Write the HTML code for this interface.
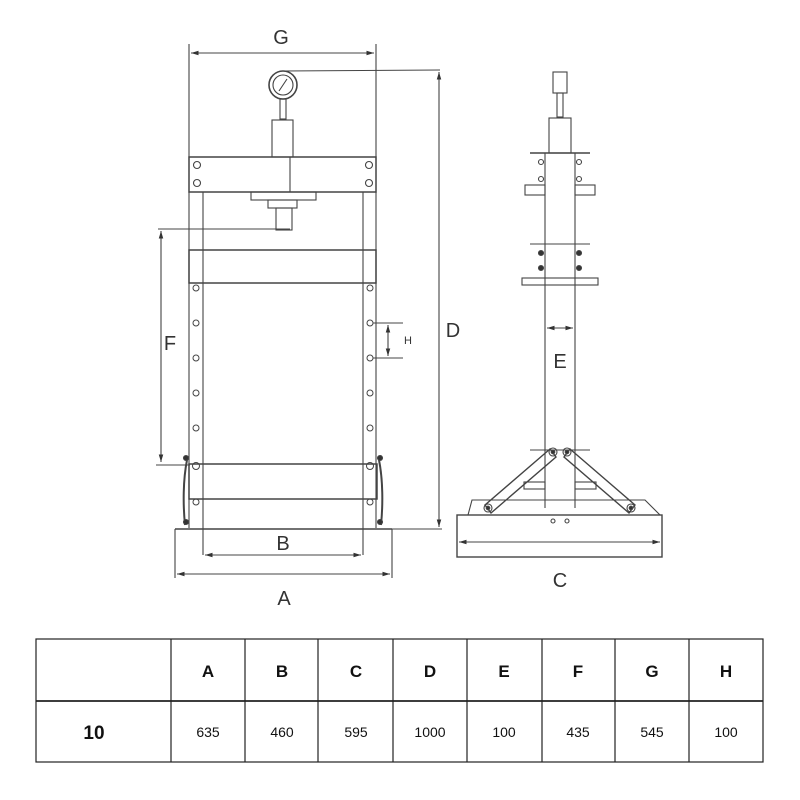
<!DOCTYPE html>
<html><head><meta charset="utf-8"><style>
html,body{margin:0;padding:0;background:#fff;width:800px;height:800px;overflow:hidden}
svg{display:block}
</style></head><body>
<svg width="800" height="800" viewBox="0 0 800 800" xmlns="http://www.w3.org/2000/svg" font-family="Liberation Sans, sans-serif">
<defs>
<marker id="ar" viewBox="0 0 10 10" refX="10" refY="5" markerWidth="7" markerHeight="7" orient="auto-start-reverse"><path d="M0,2 L10,5 L0,8 z" fill="#333"/></marker>
</defs>
<g stroke="#444" stroke-width="1.1" fill="none">
<!-- G dimension -->
<line x1="189" y1="44" x2="189" y2="160"/>
<line x1="376" y1="44" x2="376" y2="160"/>
<line x1="191" y1="53" x2="374" y2="53" marker-start="url(#ar)" marker-end="url(#ar)"/>
<!-- gauge -->
<circle cx="283" cy="85" r="14" stroke-width="1.6"/>
<circle cx="283" cy="85" r="10"/>
<line x1="279" y1="91" x2="287" y2="79"/>
<line x1="283" y1="71" x2="440" y2="70"/>
<rect x="280" y="99" width="6" height="20"/>
<rect x="272" y="120" width="21" height="37"/>
<!-- top beam -->
<rect x="189" y="157" width="187" height="35" stroke-width="1.5"/>
<line x1="290" y1="157" x2="290" y2="192"/>
<circle cx="197" cy="165" r="3.5"/><circle cx="197" cy="183" r="3.5"/>
<circle cx="369" cy="165" r="3.5"/><circle cx="369" cy="183" r="3.5"/>
<rect x="251" y="192" width="65" height="8"/>
<rect x="268" y="200" width="29" height="8"/>
<rect x="276" y="208" width="16" height="22"/>
<!-- F -->
<line x1="158" y1="229" x2="290" y2="229"/>
<line x1="161" y1="231" x2="161" y2="462" marker-start="url(#ar)" marker-end="url(#ar)"/>
<line x1="156" y1="465" x2="190" y2="465"/>
<!-- columns -->
<line x1="189" y1="192" x2="189" y2="528"/>
<line x1="203" y1="192" x2="203" y2="555"/>
<line x1="363" y1="192" x2="363" y2="555"/>
<line x1="376" y1="192" x2="376" y2="528"/>
<rect x="189" y="250" width="187" height="33" stroke-width="1.5"/>
<g stroke-width="1">
<circle cx="196" cy="288" r="3"/><circle cx="196" cy="323" r="3"/><circle cx="196" cy="358" r="3"/><circle cx="196" cy="393" r="3"/><circle cx="196" cy="428" r="3"/><circle cx="196" cy="466" r="3.5"/><circle cx="196" cy="502" r="3"/>
<circle cx="370" cy="288" r="3"/><circle cx="370" cy="323" r="3"/><circle cx="370" cy="358" r="3"/><circle cx="370" cy="393" r="3"/><circle cx="370" cy="428" r="3"/><circle cx="370" cy="466" r="3.5"/><circle cx="370" cy="502" r="3"/>
</g>
<!-- H -->
<line x1="373" y1="323" x2="403" y2="323"/>
<line x1="373" y1="358" x2="403" y2="358"/>
<line x1="388" y1="325" x2="388" y2="356" marker-start="url(#ar)" marker-end="url(#ar)"/>
<!-- lower bed -->
<rect x="189" y="464" width="188" height="35" stroke-width="1.5"/>
<path d="M187,460 C183,480 183,505 185,525" stroke-width="2"/>
<path d="M379,460 C383,480 383,505 381,525" stroke-width="2"/>
<circle cx="186" cy="458" r="2.5" fill="#333"/><circle cx="186" cy="522" r="2.5" fill="#333"/>
<circle cx="380" cy="458" r="2.5" fill="#333"/><circle cx="380" cy="522" r="2.5" fill="#333"/>
<!-- base -->
<line x1="175" y1="529" x2="392" y2="529" stroke-width="1.5"/>
<line x1="175" y1="529" x2="175" y2="578"/>
<line x1="392" y1="529" x2="392" y2="578"/>
<line x1="392" y1="529" x2="442" y2="529"/>
<line x1="205" y1="555" x2="361" y2="555" marker-start="url(#ar)" marker-end="url(#ar)"/>
<line x1="177" y1="574" x2="390" y2="574" marker-start="url(#ar)" marker-end="url(#ar)"/>
<!-- D -->
<line x1="439" y1="72" x2="439" y2="527" marker-start="url(#ar)" marker-end="url(#ar)"/>

<!-- side view -->
<rect x="553" y="72" width="14" height="21"/>
<rect x="557" y="93" width="6" height="24"/>
<rect x="549" y="118" width="22" height="35"/>
<line x1="545" y1="153" x2="545" y2="508"/>
<line x1="575" y1="153" x2="575" y2="508"/>
<line x1="530" y1="153" x2="590" y2="153" stroke-width="1.5"/>
<rect x="525" y="185" width="20" height="10"/><rect x="575" y="185" width="20" height="10"/>
<circle cx="541" cy="162" r="2.5"/><circle cx="541" cy="179" r="2.5"/><circle cx="579" cy="162" r="2.5"/><circle cx="579" cy="179" r="2.5"/>
<line x1="530" y1="244" x2="590" y2="244"/>
<circle cx="541" cy="253" r="2.5" fill="#333"/><circle cx="541" cy="268" r="2.5" fill="#333"/><circle cx="579" cy="253" r="2.5" fill="#333"/><circle cx="579" cy="268" r="2.5" fill="#333"/>
<rect x="522" y="278" width="76" height="7"/>
<line x1="530" y1="450" x2="590" y2="450"/>
<rect x="524" y="482" width="21" height="7"/><rect x="575" y="482" width="21" height="7"/>
<line x1="547" y1="328" x2="573" y2="328" marker-start="url(#ar)" marker-end="url(#ar)"/>
<path d="M550,449 L485,505 L491,513 L556,457 Z" stroke-width="1.4"/>
<path d="M570,449 L635,505 L629,513 L564,457 Z" stroke-width="1.4"/>
<circle cx="553" cy="452" r="4"/><circle cx="567" cy="452" r="4"/>
<circle cx="488" cy="508" r="4"/><circle cx="631" cy="508" r="4"/>
<circle cx="553" cy="452" r="1.8" fill="#333"/><circle cx="567" cy="452" r="1.8" fill="#333"/>
<circle cx="488" cy="508" r="1.8" fill="#333"/><circle cx="631" cy="508" r="1.8" fill="#333"/>
<circle cx="553" cy="521" r="2"/><circle cx="567" cy="521" r="2"/>
<path d="M468,515 L472,500 L645,500 L660,515" />
<rect x="457" y="515" width="205" height="42" stroke-width="1.4"/>
<line x1="459" y1="542" x2="660" y2="542" marker-start="url(#ar)" marker-end="url(#ar)"/>
</g>
<g fill="#333" font-size="20" text-anchor="middle">
<text x="281" y="44">G</text>
<text x="170" y="350">F</text>
<text x="453" y="337">D</text>
<text x="283" y="550">B</text>
<text x="284" y="605">A</text>
<text x="560" y="368">E</text>
<text x="560" y="587">C</text>
<text x="408" y="344" font-size="11">H</text>
</g>
<!-- table -->
<g stroke="#222" stroke-width="1.2" fill="none">
<rect x="36" y="639" width="727" height="123"/>
<line x1="36" y1="701" x2="763" y2="701" stroke-width="1.8"/>
<line x1="171" y1="639" x2="171" y2="762"/>
<line x1="245" y1="639" x2="245" y2="762"/>
<line x1="318" y1="639" x2="318" y2="762"/>
<line x1="393" y1="639" x2="393" y2="762"/>
<line x1="467" y1="639" x2="467" y2="762"/>
<line x1="542" y1="639" x2="542" y2="762"/>
<line x1="615" y1="639" x2="615" y2="762"/>
<line x1="689" y1="639" x2="689" y2="762"/>
</g>
<g fill="#111" text-anchor="middle" font-size="17" font-weight="bold">
<text x="208" y="677">A</text><text x="282" y="677">B</text><text x="356" y="677">C</text><text x="430" y="677">D</text><text x="504" y="677">E</text><text x="578" y="677">F</text><text x="652" y="677">G</text><text x="726" y="677">H</text>
<text x="94" y="739" font-size="19">10</text>
</g>
<g fill="#111" text-anchor="middle" font-size="14">
<text x="208" y="737">635</text><text x="282" y="737">460</text><text x="356" y="737">595</text><text x="430" y="737">1000</text><text x="504" y="737">100</text><text x="578" y="737">435</text><text x="652" y="737">545</text><text x="726" y="737">100</text>
</g>
</svg>
</body></html>
